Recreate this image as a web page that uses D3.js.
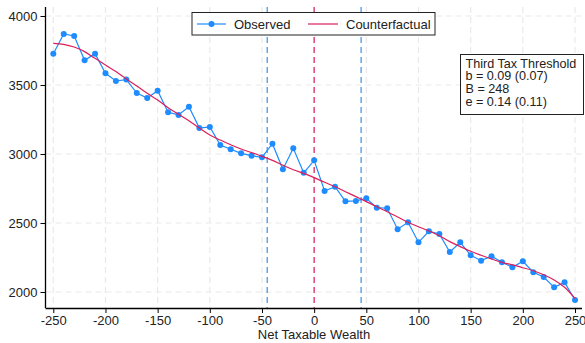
<!DOCTYPE html>
<html><head><meta charset="utf-8">
<script src="https://cdn.jsdelivr.net/npm/d3@7"></script>
<style>body{margin:0;background:#fff}svg{display:block;font-family:"Liberation Sans",Arial,sans-serif}</style>
</head><body><svg id="c" width="585" height="343"></svg>
<script>
const bins = d3.range(-250, 251, 10);
const observed = [3727,3870,3855,3679,3727,3585,3529,3539,3442,3406,3459,3302,3283,3343,3188,3196,3065,3034,3005,2988,2976,3075,2889,3041,2864,2954,2732,2763,2657,2660,2679,2611,2607,2455,2505,2360,2440,2420,2290,2360,2266,2227,2259,2215,2179,2223,2143,2109,2034,2070,1942];
const counterfactual = [3802,3795,3775,3742,3693,3645,3597,3544,3493,3440,3391,3336,3288,3241,3188,3138,3101,3067,3036,3010,2983,2954,2918,2886,2860,2829,2795,2763,2727,2691,2655,2618,2582,2544,2505,2473,2442,2408,2365,2329,2295,2266,2239,2215,2196,2176,2154,2125,2087,2034,1954];
const xTicks = [-250,-200,-150,-100,-50,0,50,100,150,200,250];
const yTicks = [2000,2500,3000,3500,4000];
const bandLines = [-45,45];
const thresholdLine = [0];
const legendLabels = ["Observed","Counterfactual"];
const noteLines = ["Third Tax Threshold","b = 0.09 (0.07)","B = 248","e = 0.14 (0.11)"];

const blue = "#1e8cff", red = "#dc1f5a", bandBlue = "#3b8fe8";
const svg = d3.select("#c");
const x = d3.scaleLinear().domain([-250,250]).range([53.3,575]);
const y = d3.scaleLinear().domain([2000,4000]).range([292,16]);
const pL = 45.5, pR = 582, pT = 7, pB = 308;
const fmt = d => String(d);

// grid
const g = svg.append("g");
g.selectAll(".gx").data(xTicks).join("line")
  .attr("x1",d=>x(d)).attr("x2",d=>x(d)).attr("y1",pT).attr("y2",pB)
  .attr("stroke","#e9e9e9").attr("stroke-width",1.2).attr("stroke-dasharray","6,4");
g.selectAll(".gy").data(yTicks).join("line")
  .attr("x1",pL).attr("x2",pR).attr("y1",d=>y(d)).attr("y2",d=>y(d))
  .attr("stroke","#e9e9e9").attr("stroke-width",1.2).attr("stroke-dasharray","6,4");

// vertical reference lines
svg.selectAll(".bl").data(bandLines).join("line")
  .attr("x1",d=>x(d)).attr("x2",d=>x(d)).attr("y1",pT).attr("y2",pB)
  .attr("stroke",bandBlue).attr("stroke-width",1.2).attr("stroke-dasharray","6,4");
svg.selectAll(".tl").data(thresholdLine).join("line")
  .attr("x1",d=>x(d)).attr("x2",d=>x(d)).attr("y1",pT).attr("y2",pB)
  .attr("stroke",red).attr("stroke-width",1.2).attr("stroke-dasharray","6,4");

// observed
const line = d3.line().x((d,i)=>x(bins[i])).y(d=>y(d));
svg.append("path").datum(observed).attr("d",line).attr("fill","none").attr("stroke",blue).attr("stroke-width",1.2);
svg.selectAll(".pt").data(observed).join("circle")
  .attr("cx",(d,i)=>x(bins[i])).attr("cy",d=>y(d)).attr("r",3).attr("fill",blue);
// counterfactual
svg.append("path").datum(counterfactual).attr("d",d3.line().curve(d3.curveMonotoneX).x((d,i)=>x(bins[i])).y(d=>y(d)))
  .attr("fill","none").attr("stroke",red).attr("stroke-width",1.2);

// axes
const xa = svg.append("g").attr("transform",`translate(0,${pB})`)
  .call(d3.axisBottom(x).tickValues(xTicks).tickFormat(fmt).tickSize(5).tickPadding(3));
xa.select(".domain").attr("d",`M${pL},0.5H${pR}`).attr("stroke","#000").attr("stroke-width",1.3);
xa.selectAll("text").attr("font-size",13).attr("fill","#222").attr("font-family","Liberation Sans, Arial, sans-serif");
const ya = svg.append("g").attr("transform",`translate(${pL},0)`)
  .call(d3.axisLeft(y).tickValues(yTicks).tickFormat(fmt).tickSize(5).tickPadding(3));
ya.select(".domain").attr("d",`M0,${pT}V${pB}`).attr("stroke","#000").attr("stroke-width",1.3);
ya.selectAll("text").attr("font-size",13).attr("fill","#222").attr("font-family","Liberation Sans, Arial, sans-serif");
svg.append("text").attr("x",314).attr("y",339).attr("text-anchor","middle").attr("font-size",13).attr("fill","#222").text("Net Taxable Wealth");

// legend
const lg = svg.append("g");
lg.append("rect").attr("x",192).attr("y",12.5).attr("width",243).attr("height",22.5).attr("fill","#fff").attr("stroke","#222").attr("stroke-width",1);
lg.append("line").attr("x1",197).attr("x2",226).attr("y1",24).attr("y2",24).attr("stroke",blue).attr("stroke-width",1.2);
lg.append("circle").attr("cx",211.5).attr("cy",24).attr("r",3).attr("fill",blue);
lg.append("text").attr("x",234).attr("y",28.5).attr("font-size",13).attr("fill","#222").text(legendLabels[0]);
lg.append("line").attr("x1",308).attr("x2",338).attr("y1",24).attr("y2",24).attr("stroke",red).attr("stroke-width",1.2);
lg.append("text").attr("x",346).attr("y",28.5).attr("font-size",13).attr("fill","#222").text(legendLabels[1]);

// note box
const nb = svg.append("g");
nb.append("rect").attr("x",460.5).attr("y",54.5).attr("width",123).attr("height",60).attr("fill","#fff").attr("stroke","#222").attr("stroke-width",1);
nb.selectAll("text").data(noteLines).join("text")
  .attr("x",465.5).attr("y",(d,i)=>67.5+i*12.8).attr("font-size",12.6).attr("fill","#222").text(d=>d);
</script></body></html>
